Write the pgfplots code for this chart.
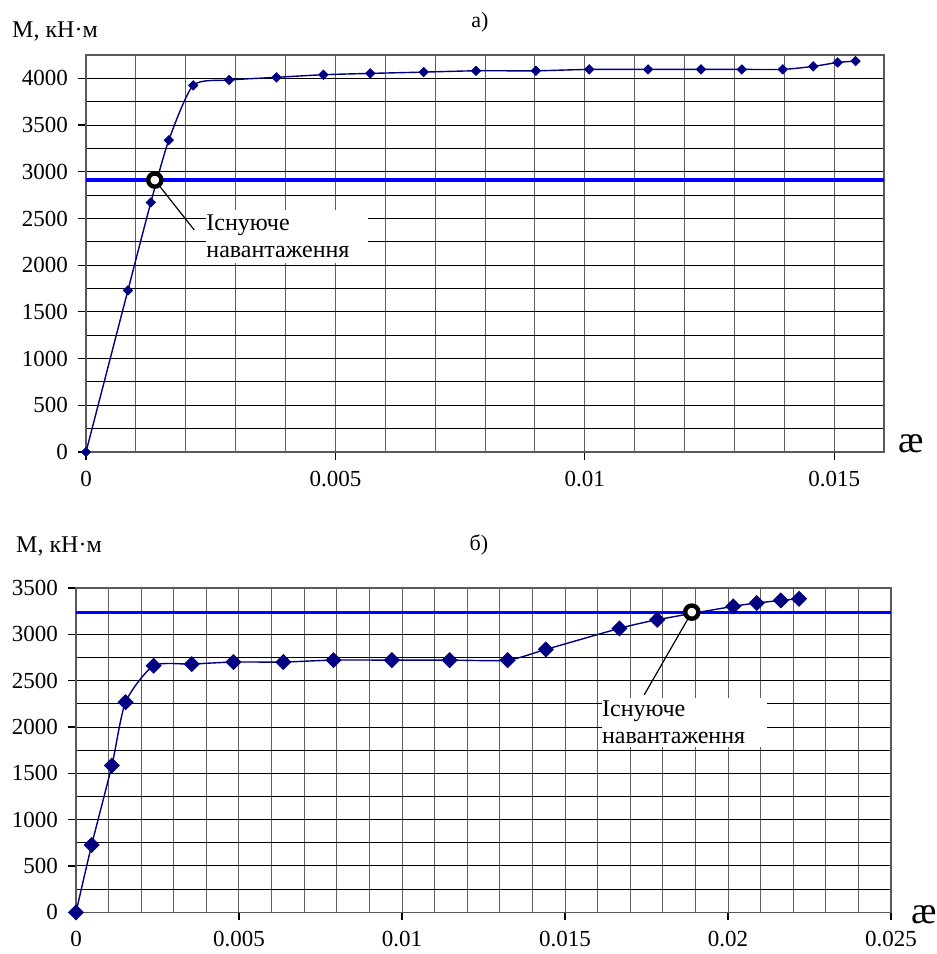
\documentclass[border=0pt]{standalone}
\usepackage{fontspec}
\setmainfont{Liberation Serif}
\usepackage{pgfplots}
\pgfplotsset{compat=1.18}
\definecolor{seriesnavy}{RGB}{0,0,128}
\definecolor{loadblue}{RGB}{0,0,255}
\newcommand{\tickfont}{\fontsize{11.5}{13}\selectfont}

\pgfplotsset{
  panel/.style={
    scale only axis, anchor=south west,
    xmin=0, ymin=0,
    grid=both,
    major x grid style={gray!75!black, line width=0.5pt},
    minor x grid style={gray!75!black, line width=0.5pt},
    major y grid style={black, line width=0.5pt},
    minor y grid style={black, line width=0.5pt},
    axis line style={gray!70!black, line width=0.7pt},
    tick pos=left, tick align=outside,
    major tick length=4pt, minor tick length=0pt,
    tick style={black, line width=0.6pt},
    every tick label/.append style={font=\tickfont},
    /pgf/number format/assume math mode=true,
    /pgf/number format/set thousands separator={},
    scaled x ticks=false,
    xticklabel={\tickfont\pgfmathprintnumber[fixed,precision=3,assume math mode=true]{\tick}},
    yticklabel={\tickfont\pgfmathprintnumber[set thousands separator={},assume math mode=true]{\tick}},
    xticklabel style={yshift=-2pt},
    yticklabel style={xshift=-1.5pt},
  },
  curve/.style={seriesnavy, line width=0.7pt, smooth, tension=0.4,
    mark=square*, mark options={rotate=45, solid, fill=seriesnavy, draw=seriesnavy}},
  loadline/.style={loadblue, line width=1.8pt, no marks},
  ring/.style={only marks, mark=*, mark size=3.3pt,
    mark options={draw=black, fill=white, line width=2.2pt}},
}
\tikzset{
  callout/.style={fill=white, inner sep=0pt, anchor=north west, align=left,
    font=\fontsize{12}{13.5}\selectfont},
}

\begin{document}
\begin{tikzpicture}
\useasboundingbox (0,0) rectangle (468.5pt,-477pt);

% ---- panel a)
\begin{axis}[panel, at={(43pt,-226pt)}, width=399pt, height=198.5pt,
  xmax=0.016, ymax=4250,
  xtick={0,0.005,0.01,0.015}, minor xtick={0.001,0.002,0.003,0.004,0.006,0.007,0.008,0.009,0.011,0.012,0.013,0.014,0.016},
  ytick={0,500,...,4000}, minor ytick={250,750,...,4250}]
\addplot[loadline] coordinates {(0,2911) (0.016,2911)};
\addplot[curve, mark size=1.5pt] coordinates {
  (0,0) (0.00084,1730) (0.0013,2672) (0.00166,3338) (0.00215,3925)
  (0.00287,3982) (0.00382,4011) (0.00476,4039) (0.0057,4053) (0.00677,4067)
  (0.00782,4081) (0.00902,4081) (0.01009,4096) (0.01127,4096) (0.01233,4096)
  (0.01315,4096) (0.01397,4096) (0.01458,4128) (0.01507,4170) (0.01543,4185)};
\addplot[ring] coordinates {(0.00138,2911)};
\node[callout, text width=81pt, minimum height=26.5pt] at (axis cs:0.002407,2594)
  {Існуюче\\навантаження};
\draw[black, line width=0.6pt] (axis cs:0.00138,2911) -- (axis cs:0.00217,2377);
\end{axis}

% ---- panel б)
\begin{axis}[panel, at={(38pt,-456.15pt)}, width=407.5pt, height=162.15pt,
  xmax=0.025, ymax=3500,
  xtick={0,0.005,0.01,0.015,0.02,0.025},
  minor xtick={0.001,0.002,0.003,0.004,0.006,0.007,0.008,0.009,0.011,0.012,0.013,0.014,0.016,0.017,0.018,0.019,0.021,0.022,0.023,0.024},
  ytick={0,500,...,3500}, minor ytick={250,750,...,3250}]
\addplot[loadline] coordinates {(0,3237) (0.025,3237)};
\addplot[curve, mark size=2.5pt] coordinates {
  (0,0) (0.00048,727) (0.0011,1584) (0.00152,2268) (0.00238,2661)
  (0.00355,2679) (0.00483,2701) (0.00636,2701) (0.0079,2722) (0.00969,2722)
  (0.01146,2722) (0.01324,2722) (0.01441,2837) (0.01667,3064) (0.01783,3158)
  (0.02016,3302) (0.02088,3338) (0.02162,3366) (0.02218,3384)};
\addplot[ring] coordinates {(0.01889,3240)};
\node[callout, text width=82.5pt, minimum height=24.4pt] at (axis cs:0.016126,2315)
  {Існуюче\\навантаження};
\draw[black, line width=0.6pt] (axis cs:0.01889,3240) -- (axis cs:0.01743,2347);
\end{axis}

% ---- captions
\node[font=\fontsize{12}{14}\selectfont] at (27.5pt,-15.5pt) {M, кН·м};
\node[font=\fontsize{11}{13}\selectfont] at (240pt,-11pt) {а)};
\node[font=\fontsize{19}{20}\selectfont, anchor=base west, inner sep=0pt] at (449pt,-226pt) {æ};
\node[font=\fontsize{12}{14}\selectfont] at (29.5pt,-273pt) {M, кН·м};
\node[font=\fontsize{11}{13}\selectfont] at (239.5pt,-272.5pt) {б)};
\node[font=\fontsize{19}{20}\selectfont, anchor=base west, inner sep=0pt] at (455.5pt,-461.5pt) {æ};
\end{tikzpicture}
\end{document}
